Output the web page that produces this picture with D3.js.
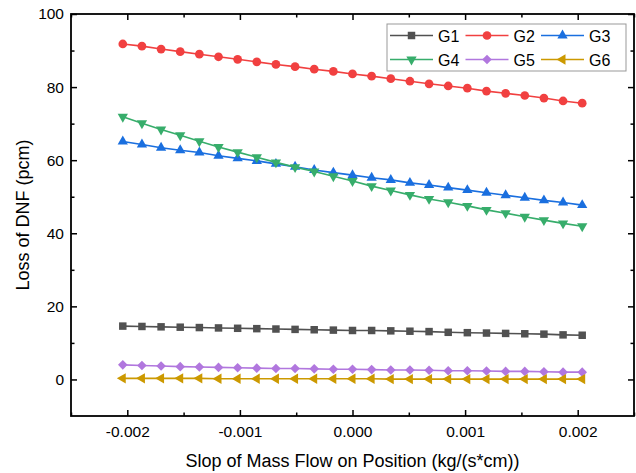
<!DOCTYPE html>
<html lang="en">
<head>
<meta charset="utf-8">
<script src="https://d3js.org/d3.v7.min.js"></script>
<style>
    body{ margin:0; background:#fff; }
    text{ font-family: "Liberation Sans", Arial, sans-serif; fill:#000; }
    .axis text{ font-size:15.5px; }
    .axis path{ display:none; }
    .axis line{ stroke:#000; stroke-width:1.5px; }
    .title{ font-size:18px; }
    .legend text{ font-size:16px; }
</style>
</head>
<body>
<div id="chart"></div>
<script>

// x positions of the 25 samples
var xVals = [-0.00204, -0.00187, -0.0017, -0.00153, -0.00136, -0.00119, -0.00102, -0.00085,
             -0.00068, -0.00051, -0.00034, -0.00017, 0, 0.00017, 0.00034, 0.00051, 0.00068,
             0.00085, 0.00102, 0.00119, 0.00136, 0.00153, 0.0017, 0.00187, 0.00204]

var g1 = [14.6, 14.5, 14.4, 14.3, 14.2, 14.1, 14.0, 13.9, 13.8, 13.7, 13.6, 13.5, 13.4,
          13.4, 13.3, 13.2, 13.1, 12.9, 12.8, 12.7, 12.6, 12.5, 12.4, 12.2, 12.1]
var g2 = [91.8, 91.2, 90.4, 89.7, 89.0, 88.3, 87.6, 86.9, 86.2, 85.6, 84.9, 84.3, 83.6,
          83.0, 82.3, 81.6, 80.9, 80.3, 79.7, 78.9, 78.3, 77.7, 77.0, 76.2, 75.6]
var g3 = [65.1, 64.3, 63.4, 62.7, 62.1, 61.2, 60.5, 59.8, 59.0, 58.2, 57.3, 56.6, 55.9,
          55.2, 54.6, 53.8, 53.2, 52.5, 51.8, 51.1, 50.4, 49.7, 49.0, 48.4, 47.7]
var g4 = [71.9, 70.1, 68.4, 66.8, 65.2, 63.6, 62.2, 60.8, 59.4, 58.1, 56.9, 55.6, 54.3,
          52.9, 51.7, 50.5, 49.4, 48.5, 47.5, 46.4, 45.5, 44.5, 43.6, 42.7, 41.9]
var g5 = [4.0, 3.8, 3.7, 3.5, 3.4, 3.3, 3.2, 3.1, 3.0, 3.0, 2.9, 2.8, 2.8,
          2.7, 2.6, 2.6, 2.5, 2.4, 2.4, 2.3, 2.2, 2.2, 2.1, 2.0, 2.0]
var g6 = [0.3, 0.3, 0.3, 0.3, 0.3, 0.2, 0.2, 0.2, 0.2, 0.2, 0.2, 0.2, 0.2,
          0.2, 0.1, 0.1, 0.1, 0.1, 0.1, 0.1, 0.1, 0.1, 0.1, 0.1, 0.1]

var seriesNames = ["G1", "G2", "G3", "G4", "G5", "G6"]
var colors = ["#515151", "#F14040", "#1A6FDF", "#37AD6B", "#B177DE", "#CC9900"]

var xTicks = [-0.002, -0.001, 0, 0.001, 0.002]
var xMinor = [-0.0025, -0.0015, -0.0005, 0.0005, 0.0015, 0.0025]
var yTicks = [0, 20, 40, 60, 80, 100]
var yMinor = [10, 30, 50, 70, 90]

var width = 636, height = 473
var margin = {top: 14, right: 2, bottom: 57, left: 71}

var svg = d3.select("#chart").append("svg")
    .attr("width", width)
    .attr("height", height)

var x = d3.scaleLinear().domain([-0.0025, 0.0025]).range([margin.left, width - margin.right])
var y = d3.scaleLinear().domain([-10, 100]).range([height - margin.bottom, margin.top])

// square-turned-diamond used by Origin
var diamond = {
    draw: function(ctx, size){
        var r = Math.sqrt(size / 2)
        ctx.moveTo(0, -r); ctx.lineTo(r, 0); ctx.lineTo(0, r); ctx.lineTo(-r, 0); ctx.closePath()
    }
}
var markers = [
    {type: d3.symbolSquare, size: 56, rot: 0},
    {type: d3.symbolCircle, size: 60, rot: 0},
    {type: d3.symbolTriangle, size: 46, rot: 0},
    {type: d3.symbolTriangle, size: 46, rot: 180},
    {type: diamond, size: 46, rot: 0},
    {type: d3.symbolTriangle, size: 46, rot: -90}
]

var data = [g1, g2, g3, g4, g5, g6].map(function(vals, i){
    return {name: seriesNames[i], color: colors[i], marker: markers[i],
            values: vals.map(function(v, j){ return {x: xVals[j], y: v} })}
})

// axes (ticks pointing inward, mirrored on top/right)
var plotBottom = height - margin.bottom, plotRight = width - margin.right

svg.append("g").attr("class", "axis")
    .attr("transform", "translate(0," + plotBottom + ")")
    .call(d3.axisBottom(x).tickValues(xTicks).tickSize(-6).tickPadding(10)
        .tickFormat(function(d){ return d.toFixed(3) }))
svg.append("g").attr("class", "axis")
    .attr("transform", "translate(0," + plotBottom + ")")
    .call(d3.axisBottom(x).tickValues(xMinor).tickSize(-3.5).tickFormat(""))
svg.append("g").attr("class", "axis")
    .attr("transform", "translate(0," + margin.top + ")")
    .call(d3.axisTop(x).tickValues(xTicks).tickSize(-6).tickFormat(""))
svg.append("g").attr("class", "axis")
    .attr("transform", "translate(0," + margin.top + ")")
    .call(d3.axisTop(x).tickValues(xMinor).tickSize(-3.5).tickFormat(""))

svg.append("g").attr("class", "axis")
    .attr("transform", "translate(" + margin.left + ",0)")
    .call(d3.axisLeft(y).tickValues(yTicks).tickSize(-6).tickPadding(7))
svg.append("g").attr("class", "axis")
    .attr("transform", "translate(" + margin.left + ",0)")
    .call(d3.axisLeft(y).tickValues(yMinor).tickSize(-3.5).tickFormat(""))
svg.append("g").attr("class", "axis")
    .attr("transform", "translate(" + plotRight + ",0)")
    .call(d3.axisRight(y).tickValues(yTicks).tickSize(-6).tickFormat(""))
svg.append("g").attr("class", "axis")
    .attr("transform", "translate(" + plotRight + ",0)")
    .call(d3.axisRight(y).tickValues(yMinor).tickSize(-3.5).tickFormat(""))

// frame
svg.append("rect")
    .attr("x", margin.left).attr("y", margin.top)
    .attr("width", plotRight - margin.left)
    .attr("height", plotBottom - margin.top)
    .attr("fill", "none").attr("stroke", "#000").attr("stroke-width", 1.8)

// series
var line = d3.line().x(d => x(d.x)).y(d => y(d.y))

var series = svg.append("g").selectAll("g.series")
    .data(data).enter()
    .append("g").attr("class", "series")

series.append("path")
    .attr("d", d => line(d.values))
    .attr("fill", "none")
    .attr("stroke", d => d.color)
    .attr("stroke-width", 1.6)

series.each(function(s){
    d3.select(this).selectAll("path.pt")
        .data(s.values).enter()
        .append("path").attr("class", "pt")
        .attr("d", d3.symbol().type(s.marker.type).size(s.marker.size))
        .attr("transform", d => "translate(" + x(d.x) + "," + y(d.y) + ") rotate(" + s.marker.rot + ")")
        .attr("fill", s.color)
})

// axis titles
svg.append("text").attr("class", "title")
    .attr("x", (margin.left + plotRight) / 2).attr("y", 467)
    .attr("text-anchor", "middle")
    .text("Slop of Mass Flow on Position (kg/(s*cm))")

svg.append("text").attr("class", "title")
    .attr("transform", "translate(29," + (margin.top + plotBottom) / 2 + ") rotate(-90)")
    .attr("text-anchor", "middle")
    .text("Loss of DNF (pcm)")

// legend
var legend = svg.append("g").attr("class", "legend").attr("transform", "translate(387,24)")
legend.append("rect")
    .attr("width", 239).attr("height", 47)
    .attr("fill", "#fff").attr("stroke", "#999").attr("stroke-width", 1)

var items = legend.selectAll("g.item")
    .data(data).enter()
    .append("g").attr("class", "item")
    .attr("transform", (d, i) => "translate(" + (3 + (i % 3) * 75.5) + "," + (11.5 + Math.floor(i / 3) * 24) + ")")

items.append("line")
    .attr("x1", 0).attr("x2", 43)
    .attr("stroke", d => d.color).attr("stroke-width", 1.6)
items.append("path")
    .attr("d", d => d3.symbol().type(d.marker.type).size(d.marker.size)())
    .attr("transform", d => "translate(21.5,0) rotate(" + d.marker.rot + ")")
    .attr("fill", d => d.color)
items.append("text")
    .attr("x", 48).attr("y", 6)
    .text(d => d.name)

</script>
</body>
</html>
